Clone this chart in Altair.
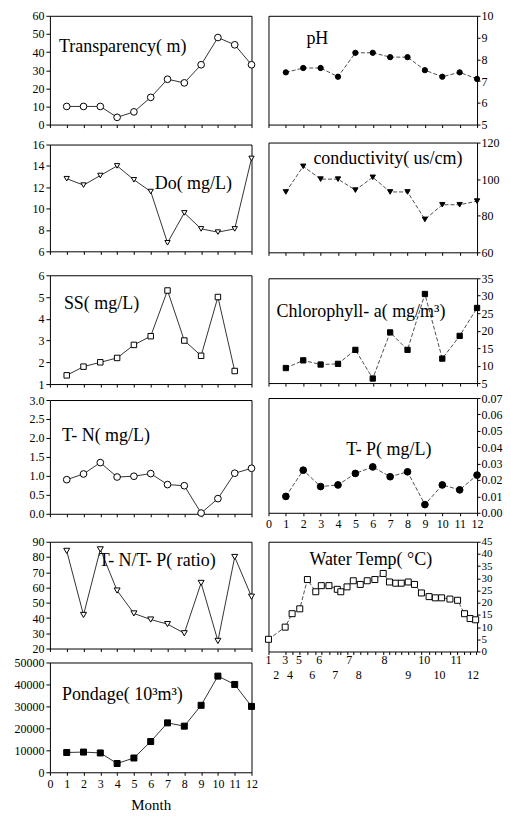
import altair as alt
import pandas as pd

FONT = "Liberation Serif"

months = list(range(1, 13))
transparency = [10, 10, 10, 4, 7, 15, 25, 23, 33, 48, 44, 33]
ph = [7.4, 7.6, 7.6, 7.2, 8.3, 8.3, 8.1, 8.1, 7.5, 7.2, 7.4, 7.1]
do = [12.8, 12.2, 13.1, 14.0, 12.7, 11.6, 6.8, 9.6, 8.1, 7.8, 8.1, 14.7]
conductivity = [93, 107, 100, 100, 94, 101, 93, 93, 78, 86, 86, 88]
ss = [1.4, 1.8, 2.0, 2.2, 2.8, 3.2, 5.3, 3.0, 2.3, 5.0, 1.6, None]
chl = [9.3, 11.5, 10.3, 10.5, 14.5, 6.3, 19.5, 14.5, 30.5, 12.0, 18.5, 26.5]
tn = [0.9, 1.05, 1.35, 0.97, 0.99, 1.06, 0.77, 0.74, 0.02, 0.4, 1.07, 1.2]
tp = [0.010, 0.026, 0.016, 0.017, 0.024, 0.028, 0.022, 0.025, 0.005, 0.017, 0.014, 0.023]
tntp = [84, 42, 85, 58, 43, 39, 36, 30, 63, 25, 80, 54]
pondage = [9000, 9200, 8800, 4000, 6500, 14000, 22500, 21000, 30500, 43800, 40000, 30000]

# water temperature: sampling sequence number and temperature
wt_sample = [1, 3.4, 4.4, 5.5, 6.6, 7.8, 8.6, 9.7, 10.9, 11.4, 12.3, 13.2, 14.2, 15.2, 16.3,
             17.5, 18.4, 19.3, 20.1, 21.1, 22.0, 23.0, 24.1, 25.0, 25.9, 27.1, 28.2, 29.2, 30.0, 30.8]
wt_temp = [5, 10, 15.5, 17.5, 29.5, 24.5, 27, 27, 25.5, 24.5, 26.5, 29, 27.5, 29, 29.5,
           32, 28.5, 28, 28, 28.5, 27.5, 24, 22.5, 22, 22, 21.5, 21, 15.5, 13.5, 13]
wt_row1_pos = [1, 3.4, 5.4, 8.3, 12.6, 17.7, 23.4, 28.0]
wt_row1_txt = ["1", "3", "5", "6", "7", "8", "10", "11"]
wt_row2_pos = [2.1, 4.1, 7.3, 10.6, 14.0, 21.1, 25.6, 30.4]
wt_row2_txt = ["2", "4", "6", "7", "8", "9", "10", "12"]


def ticks(lo, hi, step):
    n = int(round((hi - lo) / step))
    return [round(lo + i * step, 6) for i in range(n + 1)]


def yaxis(dom, step, fmt, side, size=12):
    right = side == "right"
    return alt.Axis(values=ticks(dom[0], dom[1], step), format=fmt, orient=side, title=None,
                    grid=False, domain=False, tickSize=3 if right else 4, tickColor="black",
                    labelFont=FONT, labelFontSize=size, labelPadding=1 if right else 2,
                    labelColor="black")


def panel(values, dom, step, fmt, label, lx, ly, shape, filled, msize, w, h, side,
          xlabels=False, xtitle=None, dashed=False):
    df = pd.DataFrame({"month": months, "value": values}).dropna()
    xax = dict(values=list(range(13)), labels=xlabels, grid=False, domain=False,
               tickSize=3, tickColor="black", labelFont=FONT, labelFontSize=12,
               labelPadding=3, labelFlush=False, labelOverlap=False, labelColor="black",
               titleFont=FONT, titleFontSize=15, titleFontWeight="normal",
               titlePadding=8, titleColor="black")
    xax["title"] = xtitle if xtitle else None
    x = alt.X("month:Q", scale=alt.Scale(domain=[0, 12], nice=False, zero=False),
              axis=alt.Axis(**xax))
    y = alt.Y("value:Q", scale=alt.Scale(domain=dom, nice=False, zero=False),
              axis=yaxis(dom, step, fmt, side))
    lk = dict(color="#222" if dashed else "black", strokeWidth=0.8)
    if dashed:
        lk["strokeDash"] = [4, 2]
    line = alt.Chart(df).mark_line(**lk).encode(x=x, y=y)
    pts = alt.Chart(df).mark_point(shape=shape, filled=True, fill="black" if filled else "white",
                                   stroke="black", strokeWidth=1, size=msize, opacity=1).encode(x=x, y=y)
    txt = alt.Chart(pd.DataFrame({"t": [label]})).mark_text(
        align="left", baseline="middle", font=FONT, fontSize=18, color="black"
    ).encode(text="t:N", x=alt.value(lx), y=alt.value(ly))
    return alt.layer(line, pts, txt).properties(width=w, height=h)


def water_panel(w, h):
    df = pd.DataFrame({"s": wt_sample, "value": wt_temp})
    x = alt.X("s:Q", scale=alt.Scale(domain=[1, 31], nice=False, zero=False),
              axis=alt.Axis(values=wt_sample, labels=False, title=None, grid=False,
                            domain=False, tickSize=3, tickColor="black"))
    y = alt.Y("value:Q", scale=alt.Scale(domain=[0, 45], nice=False, zero=False),
              axis=yaxis([0, 45], 5, "d", "right", size=11))
    line = alt.Chart(df).mark_line(color="#222", strokeWidth=0.8, strokeDash=[4, 2]).encode(x=x, y=y)
    pts = alt.Chart(df).mark_point(shape="square", filled=True, fill="white", stroke="black",
                                   strokeWidth=1, size=36, opacity=1).encode(x=x, y=y)
    r1 = alt.Chart(pd.DataFrame({"s": wt_row1_pos, "t": wt_row1_txt})).mark_text(
        font=FONT, fontSize=12, baseline="middle", color="black"
    ).encode(x=x, text="t:N", y=alt.value(h + 9))
    r2 = alt.Chart(pd.DataFrame({"s": wt_row2_pos, "t": wt_row2_txt})).mark_text(
        font=FONT, fontSize=12, baseline="middle", color="black"
    ).encode(x=x, text="t:N", y=alt.value(h + 24))
    txt = alt.Chart(pd.DataFrame({"t": ["Water Temp( °C)"]})).mark_text(
        align="left", baseline="middle", font=FONT, fontSize=18, color="black"
    ).encode(text="t:N", x=alt.value(41), y=alt.value(18))
    return alt.layer(line, pts, r1, r2, txt).properties(width=w, height=h)


def stack(panels, gaps):
    chart = panels[-1]
    for p, g in zip(reversed(panels[:-1]), reversed(gaps)):
        chart = alt.vconcat(p, chart, spacing=g, bounds="flush")
    return chart


LW, RW = 202, 209
left = stack([
    panel(transparency, [0, 60], 10, "d", "Transparency( m)", 9, 31, "circle", False, 45, LW, 109, "left"),
    panel(do, [6, 16], 2, "d", "Do( mg/L)", 105, 40, "triangle-down", False, 28, LW, 107, "left"),
    panel(ss, [1, 6], 1, "d", "SS( mg/L)", 14, 29, "square", False, 30, LW, 109, "left"),
    panel(tn, [0, 3], 0.5, ".1f", "T- N( mg/L)", 12, 36, "circle", False, 45, LW, 114, "left"),
    panel(tntp, [20, 90], 10, "d", "T- N/T- P( ratio)", 49, 19, "triangle-down", False, 36, LW, 107, "left"),
    panel(pondage, [0, 50000], 10000, "d", "Pondage( 10³m³)", 12, 33, "square", True, 36, LW, 110, "left",
          xlabels=True, xtitle="Month"),
], [20, 24, 16, 28, 14])

right = stack([
    panel(ph, [5, 10], 1, "d", "pH", 38, 23, "circle", True, 28, RW, 109, "right", dashed=True),
    panel(conductivity, [60, 120], 20, "d", "conductivity( us/cm)", 45, 16, "triangle-down", True, 28, RW, 110,
          "right", dashed=True),
    panel(chl, [5, 35], 5, "d", "Chlorophyll- a( mg/m³)", 8, 34, "square", True, 28, RW, 105, "right", dashed=True),
    panel(tp, [0, 0.07], 0.01, ".2f", "T- P( mg/L)", 78, 52, "circle", True, 45, RW, 115, "right",
          xlabels=True, dashed=True),
    water_panel(RW, 110),
], [18, 26, 15, 29])

# flush layout measures the nested column as zero-width, so the spacing spans the left plot width plus the gap
chart = alt.hconcat(left, right, spacing=LW + 17, bounds="flush").properties(
    padding={"left": 5, "top": 0, "right": 0, "bottom": 0}
).configure_view(stroke="black", strokeWidth=1)

chart.save("out.html", embed_options={"renderer": "svg", "actions": False})
